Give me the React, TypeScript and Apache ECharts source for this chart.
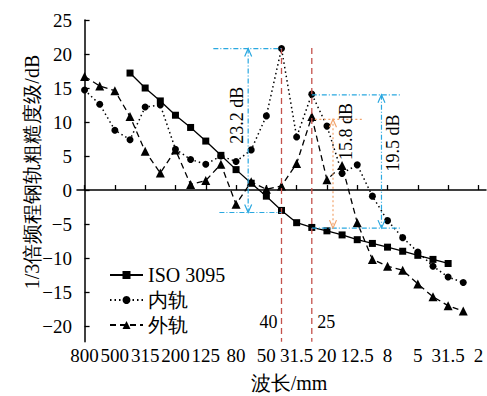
import React, { useEffect, useRef } from "react";
import * as echarts from "echarts";

// 1/3 octave wavelength bands (mm), index 0..26
const bands = ["800","630","500","400","315","250","200","160","125","100","80","63","50","40","31.5","25","20","16","12.5","10","8","6.3","5","4","3.15","2.5","2"];
// tick labels shown every 2nd band (as printed in the reference)
const tickLabels = ["800","500","315","200","125","80","50","31.5","20","12.5","8","5","31.5","2"];
const yTicks = [-20, -15, -10, -5, 0, 5, 10, 15, 20, 25];

const iso3095 = [null,null,null,17.2,15.0,13.1,11.0,9.2,7.2,5.1,3.0,1.0,-0.9,-3.0,-4.8,-5.5,-6.0,-6.6,-7.3,-7.85,-8.4,-9.0,-9.6,-10.2,-10.8,null,null];
const innerRail = [14.7,12.6,8.8,7.4,12.2,12.5,6.0,4.5,3.8,5.0,4.2,5.9,10.9,20.8,7.8,14.1,9.4,2.45,3.7,-0.9,-4.5,-7.0,-9.1,-11.2,-12.8,-13.6,null];
const outerRail = [16.7,15.3,14.6,10.8,5.7,2.5,5.9,0.8,1.4,3.8,-2.1,1.2,0.1,0.6,3.9,10.8,1.5,3.6,-4.8,-10.2,-11.2,-11.8,-13.8,-15.7,-17.0,-17.8,null];

const seriesNames = ["ISO 3095", "内轨", "外轨"];

// annotation brackets in data coordinates (band index, dB)
const brackets = [
  { color: "#2aa8e0", dash: [5, 2, 1, 2], top: 20.8, bot: -3.3, topFrom: 8.5, botFrom: 8.9, to: 13, arrowX: 10.8, text: "23.2 dB", textX: 10.05, textY: 11.0 },
  { color: "#2aa8e0", dash: [5, 2, 1, 2], top: 14.0, bot: -5.6, topFrom: 15, botFrom: 15, to: 20.9, arrowX: 19.6, text: "19.5 dB", textX: 20.35, textY: 6.9 },
  { color: "#f2a46c", dash: [2, 2.5], top: 10.4, bot: null, topFrom: 15.2, botFrom: 15, to: 18.3, arrowX: 16.4, arrowBot: -5.6, text: "15.8 dB", textX: 17.25, textY: 8.6 },
];
const redLines = [
  { x: 13, text: "40", textX: 12.15 },
  { x: 15, text: "25", textX: 15.95 },
];

const serif = "'Times New Roman', serif";

const toPairs = (arr: (number | null)[]) =>
  arr.map((v, i) => (v === null ? null : [i, v])).filter((d) => d !== null);

export default function App() {
  const ref = useRef<HTMLDivElement>(null);
  useEffect(() => {
    const chart = echarts.init(ref.current!, null, { renderer: "svg" });
    const minus = (v: number) => String(v).replace("-", "−");
    chart.setOption({
      animation: false,
      textStyle: { fontFamily: serif },
      grid: { left: 77, right: 1, top: 20, bottom: 54.3 },
      xAxis: {
        type: "value",
        min: -0.5,
        max: 26.5,
        axisLine: { lineStyle: { color: "#000", width: 1.5 } },
        axisTick: { inside: true, length: 5, lineStyle: { color: "#000", width: 1.3 }, customValues: tickLabels.map((_, k) => k * 2) },
        axisLabel: {
          customValues: tickLabels.map((_, k) => k * 2),
          formatter: (v: number) => tickLabels[Math.round(v / 2)],
          color: "#000", fontSize: 19, fontFamily: serif, margin: 4,
        },
        splitLine: { show: false },
      },
      yAxis: {
        type: "value",
        min: -22.3,
        max: 25,
        axisLine: { show: true, lineStyle: { color: "#000", width: 1.5 } },
        axisTick: { show: true, inside: true, length: 5, lineStyle: { color: "#000", width: 1.3 }, customValues: yTicks },
        axisLabel: { customValues: yTicks, formatter: (v: number) => minus(v), color: "#000", fontSize: 19, fontFamily: serif, margin: 5 },
        splitLine: { show: false },
      },
      legend: {
        orient: "vertical",
        left: 104,
        top: 259,
        itemWidth: 33,
        itemHeight: 10,
        itemGap: 3,
        data: seriesNames,
        textStyle: { fontSize: 20, fontFamily: serif, color: "#000", lineHeight: 22 },
      },
      series: [
        {
          name: "外轨", type: "line", data: toPairs(outerRail), symbol: "triangle", symbolSize: 9,
          itemStyle: { color: "#000" }, lineStyle: { color: "#000", width: 1.3, type: [6, 4] }, z: 2,
        },
        {
          name: "内轨", type: "line", data: toPairs(innerRail), symbol: "circle", symbolSize: 7,
          itemStyle: { color: "#000" }, lineStyle: { color: "#000", width: 1.5, type: [1.5, 3] }, z: 3,
        },
        {
          name: "ISO 3095", type: "line", data: toPairs(iso3095), symbol: "rect", symbolSize: 7,
          itemStyle: { color: "#000" }, lineStyle: { color: "#000", width: 1.3 }, z: 4,
        },
      ],
    });

    const px = (x: number, y: number) => chart.convertToPixel({ gridIndex: 0 }, [x, y]) as number[];
    const g: any[] = [];
    const line = (a: number[], b: number[], color: string, dash: number[] | null, w = 1.2) =>
      g.push({ type: "line", silent: true, z: 10, shape: { x1: a[0], y1: a[1], x2: b[0], y2: b[1] }, style: { stroke: color, lineWidth: w, lineDash: dash || undefined } });
    const arrow = (p: number[], dir: number, color: string) =>
      g.push({ type: "polyline", silent: true, z: 10, shape: { points: [[p[0] - 3.5, p[1] + dir * 8], p, [p[0] + 3.5, p[1] + dir * 8]] }, style: { stroke: color, lineWidth: 1.2, fill: null } });
    const text = (p: number[], s: string, size: number, rot: number, align = "center") =>
      g.push({ type: "text", silent: true, z: 11, x: p[0], y: p[1], rotation: rot,
        style: { text: s, fontSize: size, fontFamily: serif, fill: "#000", align, verticalAlign: "middle", textAlign: align, textVerticalAlign: "middle" } });

    redLines.forEach((r) => {
      line(px(r.x, 20.9), px(r.x, -22.3), "#c4524c", [6, 4], 1.3);
      text(px(r.textX, -19.4), r.text, 18, 0);
    });
    brackets.forEach((b) => {
      line(px(b.topFrom, b.top), px(b.to, b.top), b.color, b.dash);
      if (b.bot !== null) line(px(b.botFrom, b.bot), px(b.to, b.bot), b.color, b.dash);
      const bottom = b.bot !== null ? b.bot : (b as any).arrowBot;
      const pt = px(b.arrowX, b.top);
      const pb = px(b.arrowX, bottom);
      line(pt, pb, b.color, b.dash);
      arrow(pt, 1, b.color);
      arrow(pb, -1, b.color);
      text(px(b.textX, b.textY), b.text, 18, Math.PI / 2);
    });
    // axis titles
    g.push({ type: "text", silent: true, x: 31.5, y: 172, rotation: Math.PI / 2,
      style: { text: "1/3倍频程钢轨粗糙度级/dB", fontSize: 20, fontFamily: serif, fill: "#000", align: "center", verticalAlign: "middle", textAlign: "center", textVerticalAlign: "middle" } });
    g.push({ type: "text", silent: true, x: 289, y: 383,
      style: { text: "波长/mm", fontSize: 20, fontFamily: serif, fill: "#000", align: "center", verticalAlign: "middle", textAlign: "center", textVerticalAlign: "middle" } });
    chart.setOption({ graphic: g });
    return () => chart.dispose();
  }, []);
  return <div ref={ref} style={{ width: 487, height: 396, position: "absolute", left: 0, top: 0 }} />;
}
